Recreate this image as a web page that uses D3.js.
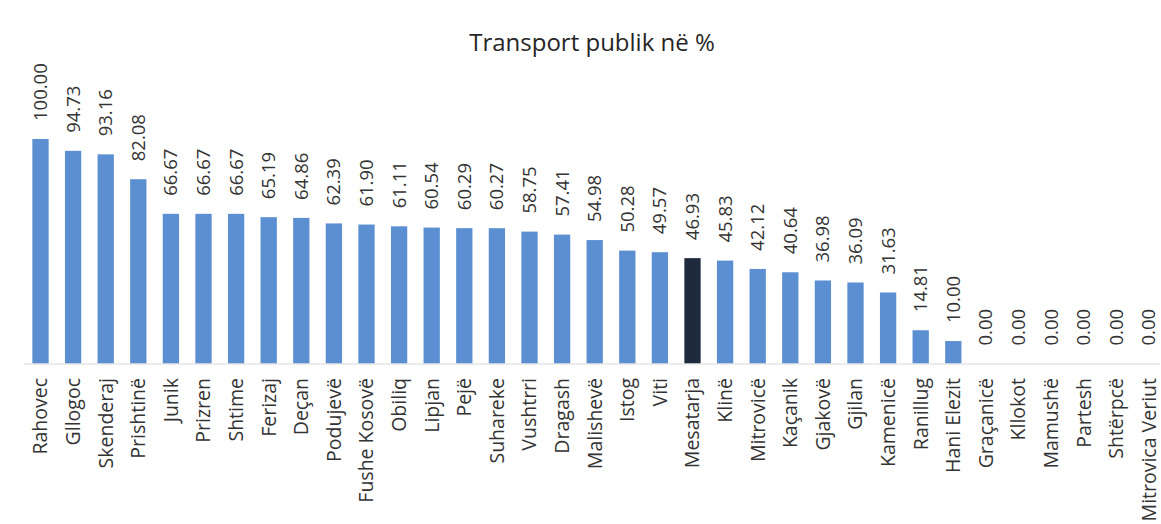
<!DOCTYPE html>
<html>
<head>
<meta charset="utf-8">
<script src="https://cdn.jsdelivr.net/npm/d3@7"></script>
<style>
  html, body { margin: 0; padding: 0; background: #ffffff; }
  svg { display: block; }
</style>
</head>
<body>
<svg id="chart" width="1161" height="524"></svg>
<script>
const categories = ["Rahovec","Gllogoc","Skenderaj","Prishtinë","Junik","Prizren","Shtime","Ferizaj","Deçan","Podujevë","Fushe Kosovë","Obiliq","Lipjan","Pejë","Suhareke","Vushtrri","Dragash","Malishevë","Istog","Viti","Mesatarja","Klinë","Mitrovicë","Kaçanik","Gjakovë","Gjilan","Kamenicë","Ranillug","Hani Elezit","Graçanicë","Kllokot","Mamushë","Partesh","Shtërpcë","Mitrovica Veriut"];
const values = [100.00,94.73,93.16,82.08,66.67,66.67,66.67,65.19,64.86,62.39,61.90,61.11,60.54,60.29,60.27,58.75,57.41,54.98,50.28,49.57,46.93,45.83,42.12,40.64,36.98,36.09,31.63,14.81,10.00,0.00,0.00,0.00,0.00,0.00,0.00];
const highlight = ["Mesatarja"];
const title = "Transport publik në %";

const data = categories.map((c, i) => ({ c, v: values[i] }));
const svg = d3.select("#chart");
const font = "'Open Sans', 'Noto Sans', sans-serif";
const textColor = "#333333";

const x = d3.scaleBand().domain(categories).range([24.2, 1165.2]).paddingInner(0.5).paddingOuter(0.25);
const y = d3.scaleLinear().domain([0, 100]).range([363.5, 139]);

svg.append("text")
  .attr("x", 592).attr("y", 51)
  .attr("text-anchor", "middle")
  .attr("font-family", font).attr("font-size", 24)
  .attr("fill", "#262626")
  .text(title);

svg.append("g").selectAll("rect").data(data).join("rect")
  .attr("x", d => x(d.c))
  .attr("width", x.bandwidth())
  .attr("y", d => y(d.v))
  .attr("height", d => y(0) - y(d.v))
  .attr("fill", d => highlight.includes(d.c) ? "#1f2b3d" : "#5b8fd2");

// baseline axis
const axis = svg.append("g").attr("transform", `translate(0,${y(0)})`)
  .call(d3.axisBottom(x).tickSize(0).tickFormat(""));
axis.select(".domain").attr("stroke", "#d9d9d9").attr("stroke-width", 1)
  .attr("d", "M24,0.5H1160");

// value labels
svg.append("g").selectAll("text").data(data).join("text")
  .attr("transform", d => `translate(${x(d.c) + x.bandwidth() / 2},${y(d.v) - 18}) rotate(-90)`)
  .attr("dy", "0.35em")
  .attr("font-family", font).attr("font-size", 18.5)
  .attr("fill", textColor)
  .text(d => d3.format(".2f")(d.v));

// category labels
svg.append("g").selectAll("text").data(data).join("text")
  .attr("transform", d => `translate(${x(d.c) + x.bandwidth() / 2},378) rotate(-90)`)
  .attr("dy", "0.35em")
  .attr("text-anchor", "end")
  .attr("font-family", font).attr("font-size", 19.5)
  .attr("fill", textColor)
  .text(d => d.c);
</script>
</body>
</html>
